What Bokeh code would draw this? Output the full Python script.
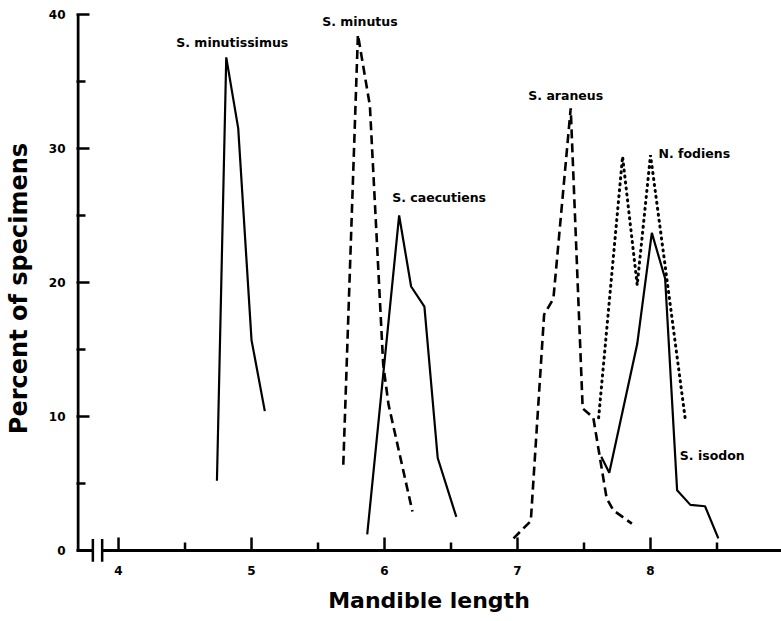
from bokeh.plotting import figure
from bokeh.models import FixedTicker, Label
from bokeh.embed import file_html
from bokeh.resources import INLINE

# ---- data ----
minutissimus_x = [4.74, 4.81, 4.90, 5.00, 5.10]
minutissimus_y = [5.2, 36.8, 31.5, 15.7, 10.4]

minutus_x = [5.69, 5.80, 5.89, 5.99, 6.03, 6.21]
minutus_y = [6.4, 38.5, 33.2, 13.9, 10.9, 2.9]

caecutiens_x = [5.87, 6.11, 6.20, 6.30, 6.40, 6.54]
caecutiens_y = [1.2, 25.0, 19.7, 18.2, 6.9, 2.5]

araneus_x = [6.97, 7.10, 7.20, 7.27, 7.40, 7.49, 7.57, 7.67, 7.72, 7.86]
araneus_y = [0.9, 2.2, 17.6, 18.8, 33.0, 10.6, 9.9, 3.9, 3.0, 2.0]

fodiens_x = [7.61, 7.79, 7.90, 8.00, 8.10, 8.26]
fodiens_y = [9.9, 29.4, 19.8, 29.5, 22.0, 9.9]

isodon_x = [7.63, 7.69, 7.90, 8.01, 8.11, 8.20, 8.30, 8.41, 8.51]
isodon_y = [7.0, 5.8, 15.4, 23.7, 20.3, 4.5, 3.4, 3.3, 0.9]

x_major = [4, 5, 6, 7, 8, 9]
x_minor = [4.5, 5.5, 6.5, 7.5, 8.5]
y_major = [0, 10, 20, 30, 40]
y_minor = [5, 15, 25, 35]

FONT = "DejaVu Sans"

X_START, X_END = 3.684, 8.985
Y_START, Y_END = -0.9, 40
AXIS_X = 3.6953          # where the y axis line sits
BREAK = (3.807, 3.877)   # axis break on the x axis

p = figure(width=781, height=621, x_range=(X_START, X_END), y_range=(Y_START, Y_END),
           output_backend="svg", toolbar_location=None,
           min_border_left=76, min_border_right=0, min_border_top=14, min_border_bottom=59)
p.outline_line_color = None
p.xgrid.visible = False
p.ygrid.visible = False

# ---- axes: labels from bokeh, lines drawn as glyphs ----
for ax in (p.xaxis[0], p.yaxis[0]):
    ax.axis_line_color = None
    ax.major_tick_out = 0
    ax.minor_tick_out = 0
    ax.major_label_text_font = FONT
    ax.major_label_text_font_style = "bold"
    ax.major_label_text_font_size = "12px"
    ax.major_label_text_color = "black"
    ax.axis_label_text_font = FONT
    ax.axis_label_text_font_style = "bold"
    ax.axis_label_text_color = "black"

p.xaxis.ticker = FixedTicker(ticks=x_major, minor_ticks=x_minor)
p.xaxis.major_tick_line_color = None
p.xaxis.minor_tick_line_color = None
p.xaxis.major_tick_in = 0
p.xaxis.minor_tick_in = 0
p.xaxis.major_label_standoff = 3
p.xaxis.axis_label = "Mandible length"
p.xaxis.axis_label_text_font_size = "22px"
p.xaxis.axis_label_standoff = 10

p.yaxis.ticker = FixedTicker(ticks=y_major, minor_ticks=y_minor)
p.yaxis.major_tick_in = 13
p.yaxis.minor_tick_in = 9
p.yaxis.major_tick_line_width = 2.5
p.yaxis.minor_tick_line_width = 2.5
p.yaxis.major_tick_line_color = "black"
p.yaxis.minor_tick_line_color = "black"
p.yaxis.major_label_standoff = 11
p.yaxis.axis_label = "Percent of specimens"
p.yaxis.axis_label_text_font_size = "24px"
p.yaxis.axis_label_standoff = 13

# axis lines
p.segment(x0=[AXIS_X], y0=[0], x1=[AXIS_X], y1=[Y_END], line_color="black", line_width=3)
p.segment(x0=[AXIS_X - 0.011, BREAK[1]], y0=[0, 0], x1=[BREAK[0], X_END], y1=[0, 0],
          line_color="black", line_width=3)
# break bars
p.segment(x0=list(BREAK), y0=[-0.85, -0.85], x1=list(BREAK), y1=[0.85, 0.85],
          line_color="black", line_width=2.5)
# x ticks (pointing into the plot)
px_per_y = 13.4
maj = [t for t in x_major if X_START < t < X_END]
mnr = [t for t in x_minor if X_START < t < X_END]
p.segment(x0=maj, y0=[0] * len(maj), x1=maj, y1=[13 / px_per_y] * len(maj),
          line_color="black", line_width=2.5)
p.segment(x0=mnr, y0=[0] * len(mnr), x1=mnr, y1=[8 / px_per_y] * len(mnr),
          line_color="black", line_width=2.5)

# ---- series ----
p.line(minutissimus_x, minutissimus_y, line_color="black", line_width=2.2)
p.line(minutus_x, minutus_y, line_color="black", line_width=2.6, line_dash="9 5")
p.line(caecutiens_x, caecutiens_y, line_color="black", line_width=2.2)
p.line(araneus_x, araneus_y, line_color="black", line_width=2.6, line_dash="9 5")
p.line(fodiens_x, fodiens_y, line_color="black", line_width=3, line_dash="1 5", line_cap="round")
p.line(isodon_x, isodon_y, line_color="black", line_width=2.2)

# species labels anchored at each curve's peak
def peak(xs, ys):
    i = ys.index(max(ys))
    return xs[i], ys[i]

labels = [
    ("S. minutissimus", peak(minutissimus_x, minutissimus_y), 6, 15, "center"),
    ("S. minutus", peak(minutus_x, minutus_y), 2, 13, "center"),
    ("S. caecutiens", peak(caecutiens_x, caecutiens_y), 40, 18, "center"),
    ("S. araneus", peak(araneus_x, araneus_y), -5, 13, "center"),
    ("N. fodiens", peak(fodiens_x, fodiens_y), 8, 2, "left"),
    ("S. isodon", peak(isodon_x, isodon_y), 28, -223, "left"),
]
for txt, (lx, ly), dx, dy, al in labels:
    p.add_layout(Label(x=lx, y=ly, x_offset=dx, y_offset=dy, text=txt,
                       text_font=FONT, text_font_style="bold", text_font_size="12.5px",
                       text_align=al, text_baseline="middle", text_color="black"))

open("out.html", "w").write(file_html(p, INLINE))
